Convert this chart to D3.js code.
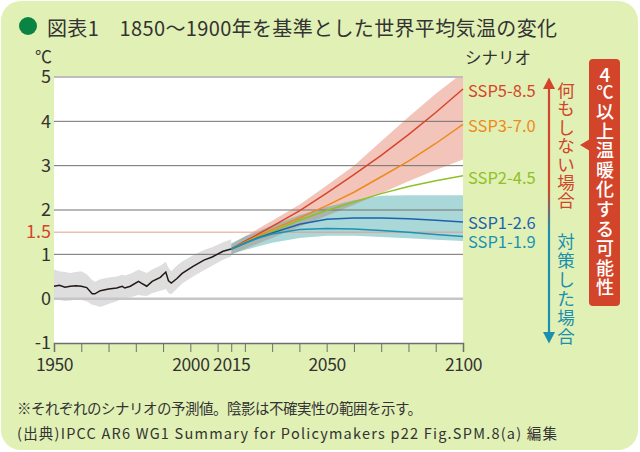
<!DOCTYPE html>
<html>
<head>
<meta charset="utf-8">
<script src="https://cdn.jsdelivr.net/npm/d3@7"></script>
<style>
body { margin: 0; background: #fff; }
text { font-family: "Noto Sans CJK JP", "Noto Sans", sans-serif; }
</style>
</head>
<body>
<div id="chart"></div>
<script>
// observed (1950-2015), smoothed mean and shaded range
var histYears = [1950,1952,1954,1956,1958,1960,1962,1964,1965,1967,1970,1973,1975,1976,1978,1981,1982,1984,1986,1989,1991,1992,1993,1995,1997,2001,2005,2008,2012,2015];
var histMean  = [0.28,0.30,0.26,0.28,0.29,0.28,0.25,0.11,0.11,0.18,0.22,0.24,0.28,0.24,0.28,0.39,0.35,0.28,0.39,0.48,0.60,0.40,0.35,0.45,0.57,0.73,0.87,0.94,1.07,1.12];
var histHigh  = [0.66,0.62,0.60,0.58,0.60,0.62,0.55,0.42,0.38,0.44,0.48,0.50,0.54,0.52,0.56,0.65,0.63,0.58,0.66,0.74,0.83,0.70,0.62,0.74,0.84,0.98,1.10,1.16,1.27,1.34];
var histLow   = [-0.02,-0.03,-0.05,-0.04,-0.02,-0.03,-0.06,-0.14,-0.15,-0.19,-0.12,-0.06,0.00,0.01,0.03,0.08,0.07,0.06,0.12,0.18,0.22,0.13,0.10,0.22,0.34,0.50,0.64,0.74,0.88,0.95];

// scenarios (2015-2100)
var projYears = [2015,2020,2025,2030,2040,2050,2060,2070,2080,2090,2100];
var ssp585 = [1.12,1.30,1.46,1.63,1.98,2.38,2.80,3.23,3.70,4.20,4.73];
var ssp370 = [1.12,1.27,1.42,1.56,1.82,2.10,2.40,2.75,3.10,3.50,3.93];
var ssp245 = [1.12,1.26,1.39,1.51,1.77,1.99,2.18,2.37,2.53,2.66,2.77];
var ssp126 = [1.12,1.25,1.38,1.48,1.68,1.79,1.82,1.82,1.80,1.77,1.73];
var ssp119 = [1.12,1.25,1.37,1.46,1.56,1.58,1.57,1.54,1.50,1.45,1.40];

// uncertainty ranges (SSP3-7.0 = red, SSP1-2.6 = blue)
var highTop    = [1.22,1.40,1.58,1.76,2.12,2.55,3.00,3.55,4.10,4.62,5.10];
var highBottom = [1.00,1.12,1.25,1.37,1.62,1.87,2.12,2.38,2.65,2.90,3.14];
var lowTop     = [1.25,1.40,1.52,1.65,1.88,2.07,2.22,2.32,2.33,2.33,2.33];
var lowBottom  = [1.00,1.10,1.18,1.26,1.37,1.42,1.42,1.39,1.36,1.33,1.30];

var scenarioNames = ["SSP5-8.5","SSP3-7.0","SSP2-4.5","SSP1-2.6","SSP1-1.9"];
var scenarioValues = [ssp585, ssp370, ssp245, ssp126, ssp119];

var xTicks = [1950,1960,1970,1980,1990,2000,2010,2015,2020,2030,2040,2050,2060,2070,2080,2090,2100];
var xLabels = [1950,2000,2015,2050,2100];
var yTicks = [-1,0,1,1.5,2,3,4,5];

var scenarioColors = ["#d6452b","#ee8a1c","#8fc027","#1b62ad","#1a92b5"];
var labelNudge = [1,1,1,0,4];

var red = "#d2452b", teal = "#1a8fae";

var width = 640, height = 452;
var svg = d3.select("#chart").append("svg").attr("width", width).attr("height", height);

svg.append("rect").attr("x", 1).attr("y", 1).attr("width", 637).attr("height", 449)
    .attr("rx", 20).attr("fill", "#e1f0b5");

// title
svg.append("circle").attr("cx", 28).attr("cy", 26).attr("r", 9).attr("fill", "#0b8443");
svg.append("text").attr("x", 47).attr("y", 27).attr("dominant-baseline", "central")
    .attr("font-size", 20).attr("fill", "#333").attr("textLength", 510)
    .text("図表1\u30001850～1900年を基準とした世界平均気温の変化");

var pLeft = 54, pRight = 463, pTop = 77, pBottom = 343;
var x = d3.scaleLinear().domain([1950, 2100]).range([pLeft, pRight]);
var y = d3.scaleLinear().domain([-1, 5]).range([pBottom, pTop]);

svg.append("rect").attr("x", pLeft).attr("y", pTop).attr("width", pRight - pLeft).attr("height", pBottom - pTop)
    .attr("fill", "#fff");

var defs = svg.append("defs");
defs.append("clipPath").attr("id", "plotClip").append("rect")
    .attr("x", pLeft).attr("y", pTop).attr("width", pRight - pLeft).attr("height", pBottom - pTop);

var histData = histYears.map(function(d, i) { return {x: d, m: histMean[i], lo: histLow[i], hi: histHigh[i]}; });
var bandData = projYears.map(function(d, i) {
    return {x: d, hTop: highTop[i], hBot: highBottom[i], lTop: lowTop[i], lBot: lowBottom[i]};
});

var areaHigh = d3.area().x(function(d) { return x(d.x); })
    .y0(function(d) { return y(d.hBot); }).y1(function(d) { return y(d.hTop); });
var areaLow = d3.area().x(function(d) { return x(d.x); })
    .y0(function(d) { return y(d.lBot); }).y1(function(d) { return y(d.lTop); });

defs.append("clipPath").attr("id", "highClip").append("path").attr("d", areaHigh(bandData));

var plot = svg.append("g").attr("clip-path", "url(#plotClip)");

plot.append("path")
    .attr("d", d3.area().x(function(d) { return x(d.x); })
        .y0(function(d) { return y(d.lo); }).y1(function(d) { return y(d.hi); })(histData))
    .attr("fill", "#dedede");

plot.append("path").attr("d", areaHigh(bandData)).attr("fill", "#f3c5ba");
plot.append("path").attr("d", areaLow(bandData)).attr("fill", "#aad7d8");
// overlap of both ranges
plot.append("g").attr("clip-path", "url(#highClip)")
    .append("path").attr("d", areaLow(bandData)).attr("fill", "#aab3ae");

// grid lines
var grid = [
    {v: 5, c: "#bdbdbd", w: 2},
    {v: 4, c: "#707070", w: 1},
    {v: 3, c: "#707070", w: 1},
    {v: 2, c: "#707070", w: 1},
    {v: 1, c: "#707070", w: 1},
    {v: 1.5, c: "#e59b89", w: 1},
    {v: 0, c: "#c6c6c6", w: 2.5}
];
svg.append("g").selectAll("line").data(grid).join("line")
    .attr("x1", pLeft).attr("x2", pRight)
    .attr("y1", function(d) { return y(d.v); }).attr("y2", function(d) { return y(d.v); })
    .attr("stroke", function(d) { return d.c; }).attr("stroke-width", function(d) { return d.w; });

var line = d3.line().x(function(d) { return x(d[0]); }).y(function(d) { return y(d[1]); });

svg.append("path").attr("d", line(histYears.map(function(d, i) { return [d, histMean[i]]; })))
    .attr("fill", "none").attr("stroke", "#231815").attr("stroke-width", 1.5);

for (var s = 0; s < scenarioNames.length; s++) {
    svg.append("path")
        .attr("d", line(projYears.map(function(d, i) { return [d, scenarioValues[s][i]]; })))
        .attr("fill", "none").attr("stroke", scenarioColors[s]).attr("stroke-width", 1.5);
}

svg.selectAll(".slabel").data(scenarioNames).join("text")
    .attr("class", "slabel")
    .attr("x", pRight + 5)
    .attr("y", function(d, i) { return y(scenarioValues[i][projYears.length - 1]) + labelNudge[i]; })
    .attr("dominant-baseline", "central")
    .attr("font-size", 16.5)
    .attr("fill", function(d, i) { return scenarioColors[i]; })
    .text(function(d) { return d; });

// axes
var xAxis = d3.axisBottom(x).tickValues(xTicks).tickSize(9).tickPadding(7)
    .tickFormat(function(d) { return xLabels.indexOf(d) >= 0 ? d : ""; });
var gx = svg.append("g").attr("transform", "translate(0," + pBottom + ")").call(xAxis);
gx.select(".domain").attr("stroke", "#6e6e6e").attr("stroke-width", 1.5);
gx.selectAll(".tick line").attr("stroke", "#6e6e6e");
gx.selectAll(".tick text").attr("font-size", 17.5).attr("fill", "#333")
    .attr("letter-spacing", -0.4)
    .style("font-family", "'Noto Sans CJK JP', sans-serif");

var yAxis = d3.axisLeft(y).tickValues(yTicks).tickSize(0).tickPadding(3)
    .tickFormat(function(d) { return d; });
var gy = svg.append("g").attr("transform", "translate(" + pLeft + ",0)").call(yAxis);
gy.select(".domain").remove();
gy.selectAll(".tick text").attr("font-size", 18)
    .attr("fill", function(d) { return d === 1.5 ? red : "#333"; })
    .style("font-family", "'Noto Sans CJK JP', sans-serif");

svg.append("text").attr("x", 35).attr("y", 55).attr("dominant-baseline", "central")
    .attr("font-size", 17).attr("fill", "#333").text("℃");
svg.append("text").attr("x", 465).attr("y", 57).attr("dominant-baseline", "central")
    .attr("font-size", 16.5).attr("fill", "#333").text("シナリオ");

// arrow
var grad = defs.append("linearGradient").attr("id", "arrowGrad")
    .attr("gradientUnits", "userSpaceOnUse").attr("x1", 0).attr("x2", 0).attr("y1", 78).attr("y2", 343);
grad.append("stop").attr("offset", 0.42).attr("stop-color", red);
grad.append("stop").attr("offset", 0.58).attr("stop-color", teal);

var ax = 549;
svg.append("line").attr("x1", ax).attr("x2", ax).attr("y1", 86).attr("y2", 335)
    .attr("stroke", "url(#arrowGrad)").attr("stroke-width", 2.2);
svg.append("path").attr("d", "M" + ax + ",77.5L" + (ax - 6) + ",89L" + (ax + 6) + ",89Z").attr("fill", red);
svg.append("path").attr("d", "M" + ax + ",343.5L" + (ax - 6) + ",332L" + (ax + 6) + ",332Z").attr("fill", teal);

// vertical text, one character per row
function vtext(chars, cx, cy0, step, size, color, weight) {
    svg.append("g").selectAll("text").data(Array.from(chars)).join("text")
        .attr("x", cx).attr("y", function(d, i) { return cy0 + i * step; })
        .attr("text-anchor", "middle").attr("dominant-baseline", "central")
        .attr("font-size", size).attr("fill", color).attr("font-weight", weight || 400)
        .text(function(d) { return d; });
}
vtext("何もしない場合", 566, 89.5, 18.4, 17.5, red);
vtext("対策した場合", 566, 240.5, 18.9, 17.5, teal);

// callout box
svg.append("rect").attr("x", 589).attr("y", 59).attr("width", 31).attr("height", 247)
    .attr("rx", 4).attr("fill", red);
svg.append("path").attr("d", "M580,145L590,139L590,151Z").attr("fill", red);
vtext("4", 605, 73.5, 0, 19, "#fff", 500);
vtext("℃", 605, 90, 0, 17, "#fff", 500);
vtext("以上温暖化する可能性", 605, 110, 19.6, 18, "#fff", 500);

// notes
svg.append("text").attr("x", 17).attr("y", 407).attr("dominant-baseline", "central")
    .attr("font-size", 14.5).attr("fill", "#333").attr("textLength", 405)
    .text("※それぞれのシナリオの予測値。陰影は不確実性の範囲を示す。");
svg.append("text").attr("x", 17).attr("y", 432).attr("dominant-baseline", "central")
    .attr("font-size", 14.5).attr("fill", "#333").attr("textLength", 540)
    .text("(出典)IPCC AR6 WG1 Summary for Policymakers p22 Fig.SPM.8(a) 編集");
</script>
</body>
</html>
